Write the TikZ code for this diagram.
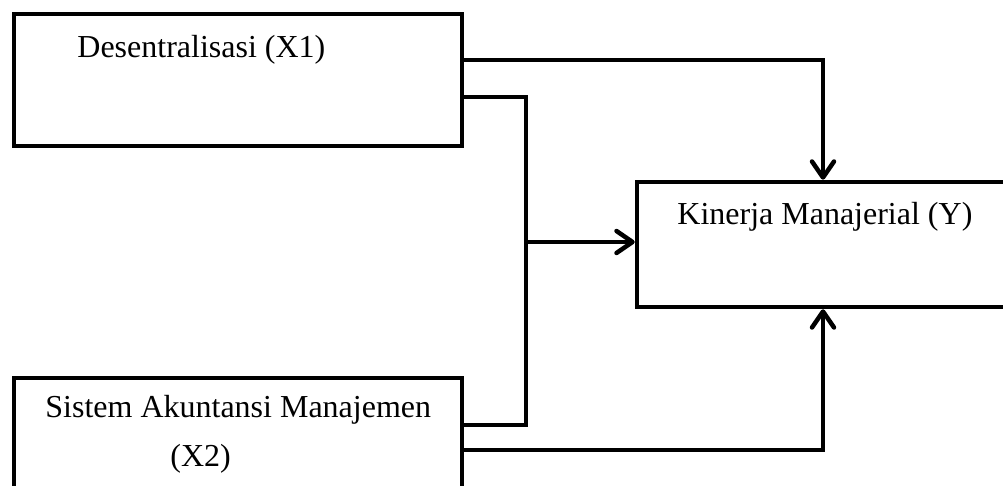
\documentclass[tikz,border=0pt]{standalone}
\usepackage{fontspec}
\setmainfont{Liberation Serif}
\usetikzlibrary{arrows.meta}

\begin{document}
\begin{tikzpicture}[
    x=0.5pt, y=-0.5pt,
    var box/.style={rectangle, draw=black, line width=2.25pt, inner sep=0pt},
    var text/.style={anchor=base west, inner sep=0pt, font=\fontsize{16}{19}\selectfont},
    link/.style={line width=2.25pt},
    arrow link/.style={link, -{Straight Barb[length=8pt, width=11pt, round]}}
]
  \useasboundingbox (0,0) rectangle (1003,486);
  \clip (0,0) rectangle (1003,486);

  \node[var box, minimum width=224pt, minimum height=66pt] (x1) at (238,80) {};
  \node[var box, minimum width=224pt, minimum height=61pt] (x2) at (238,439) {};
  \node[var box, minimum width=186pt, minimum height=62.5pt] (y) at (823,244.5) {};

  \node[var text] (x1 label) at (77,58) {Desentralisasi (X1)};
  \node[var text] (y label) at (677,225) {Kinerja Manajerial (Y)};
  \node[var text] (x2 label) at (45,418) {Sistem Akuntansi Manajemen};
  \node[var text] (x2 code) at (170,467) {(X2)};

  \coordinate (joint) at (526,242);

  \draw[arrow link] ([yshift=10pt]x1.east) -| (y.north);
  \draw[link] ([yshift=-8.5pt]x1.east) -| (joint) |- ([yshift=7pt]x2.east);
  \draw[arrow link] (joint) -- (joint -| y.west);
  \draw[arrow link] ([yshift=-5.5pt]x2.east) -| (y.south);
\end{tikzpicture}
\end{document}
